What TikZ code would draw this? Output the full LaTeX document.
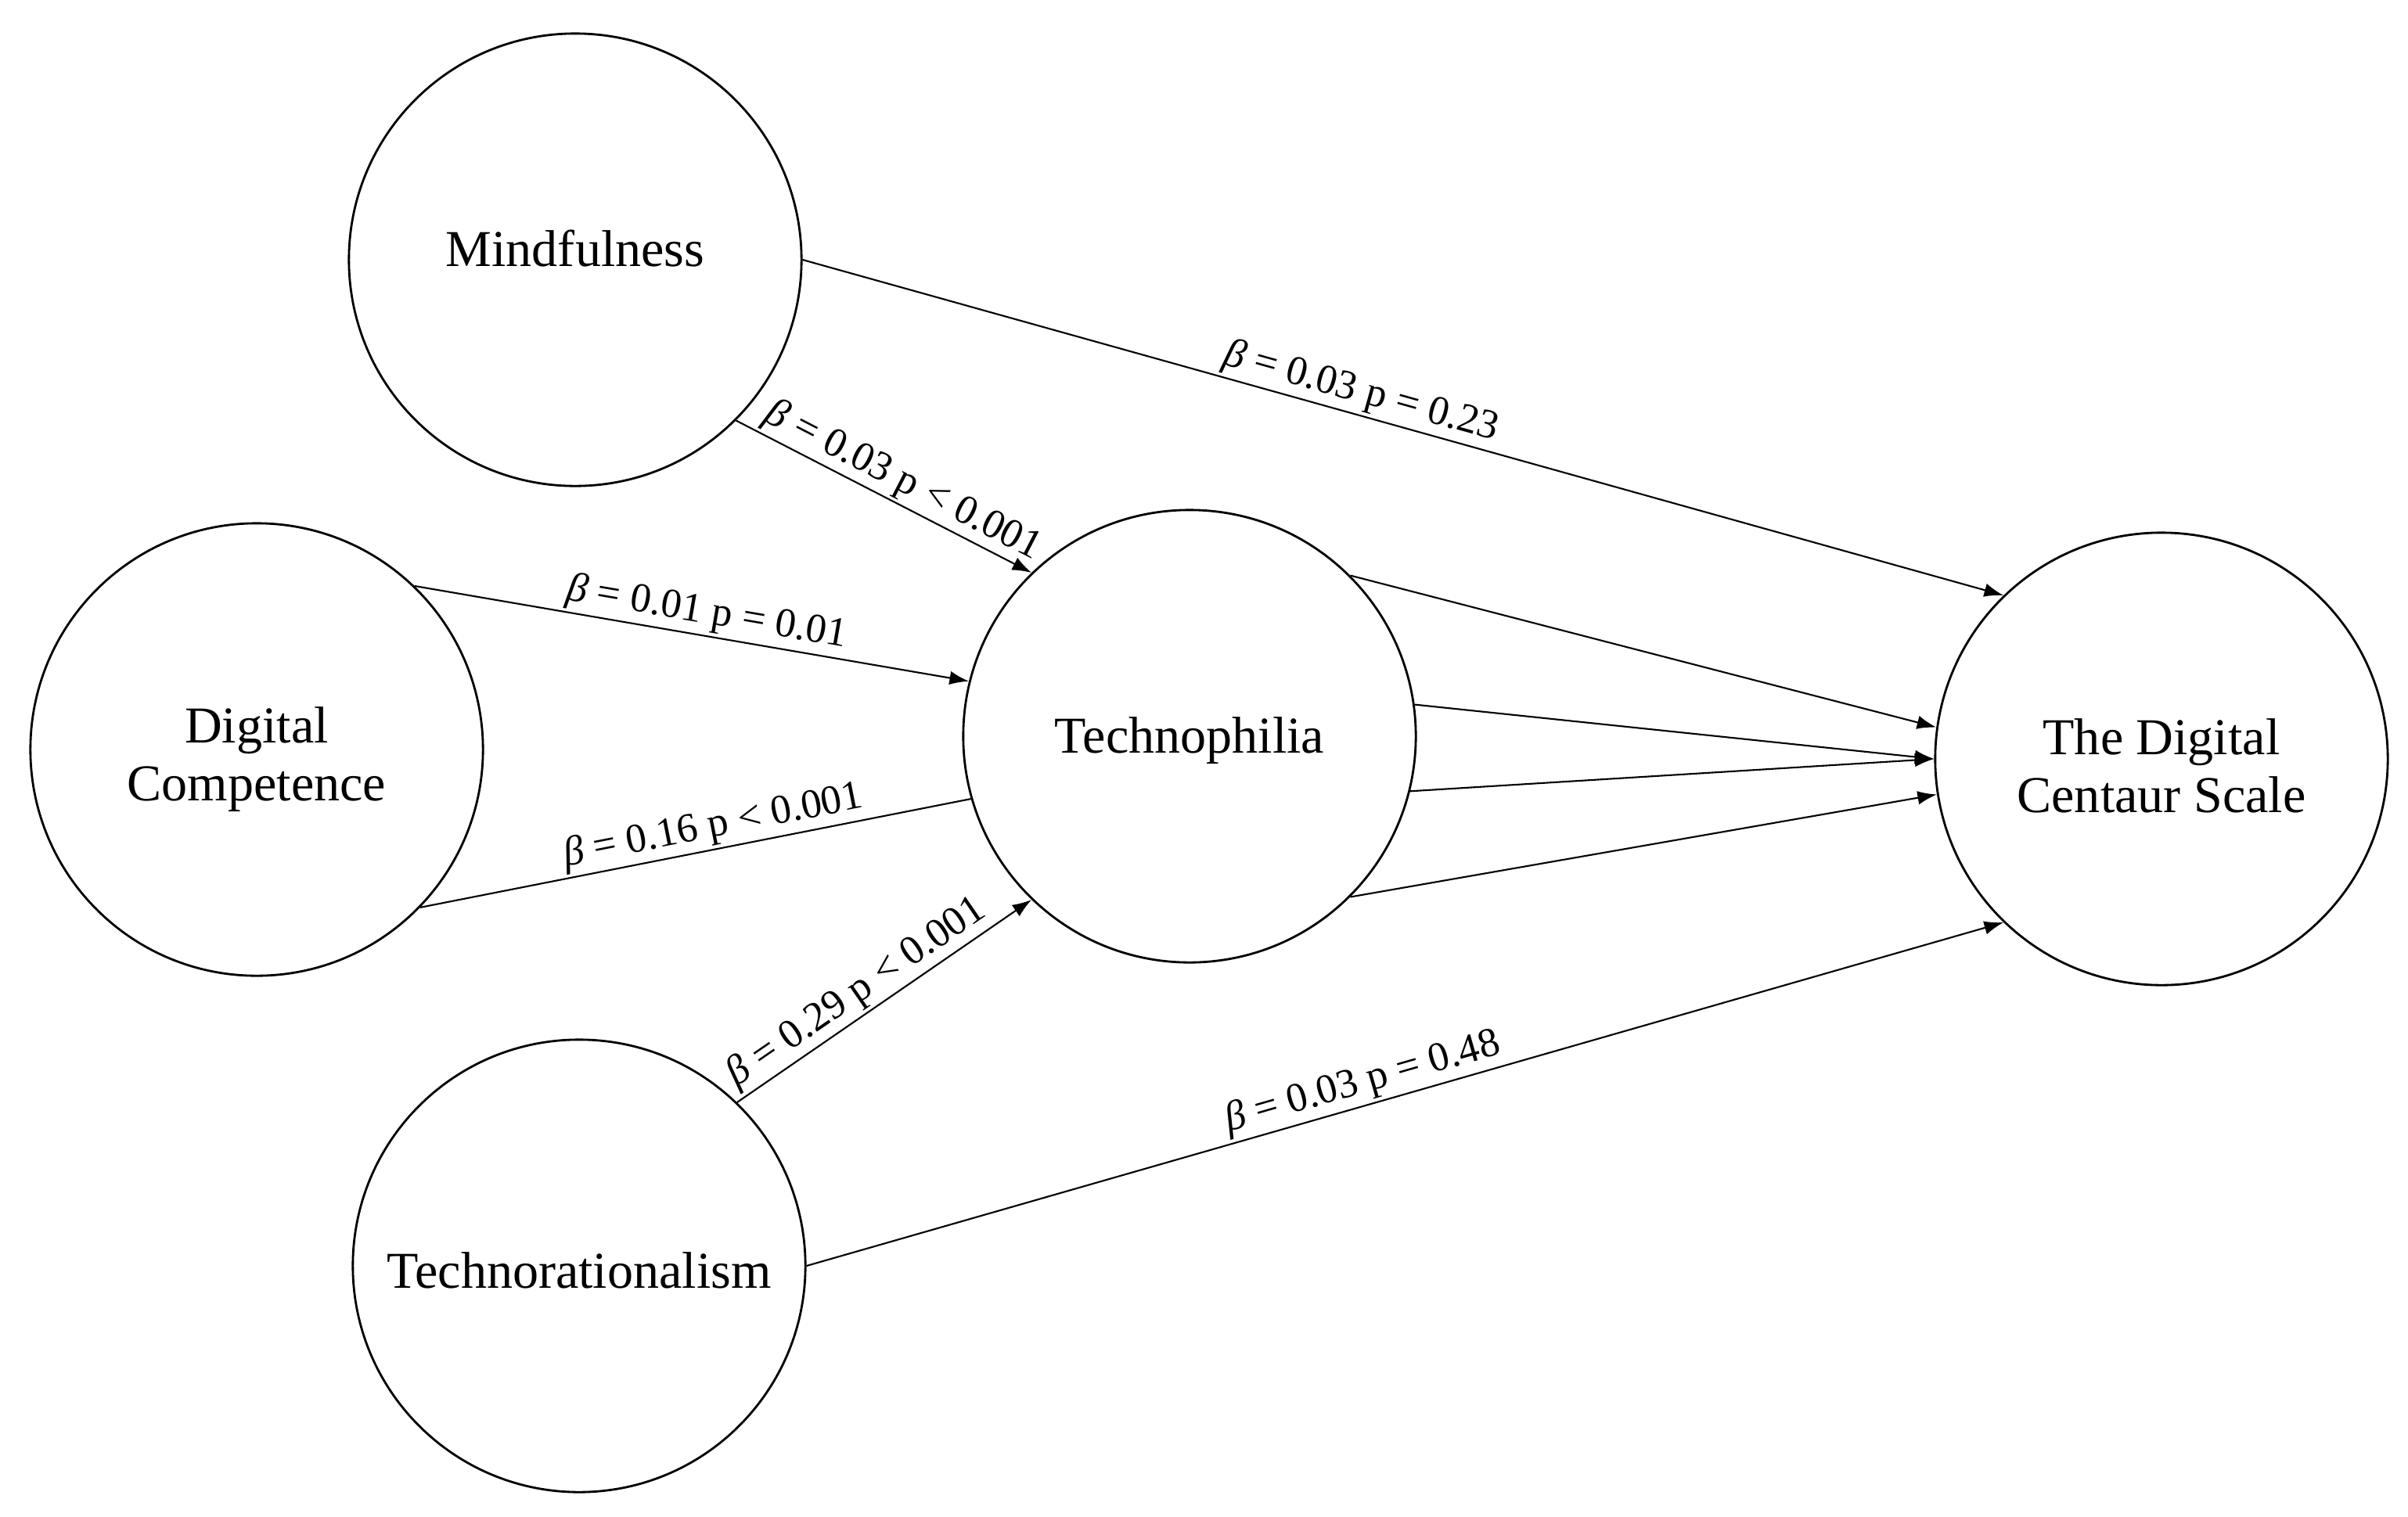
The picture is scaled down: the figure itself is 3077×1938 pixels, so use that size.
\documentclass[tikz,border=0pt]{standalone}
\usepackage{fontspec}
\setmainfont{Liberation Serif}
\usetikzlibrary{arrows.meta}
\newcommand{\sh}[2]{\raisebox{#1}[0pt][0pt]{#2}}
\newcommand{\twol}[2]{\begin{tabular}[b]{@{}c@{}}#1\\#2\end{tabular}}
\begin{document}
\begin{tikzpicture}[x=0.01cm,y=-0.01cm,
  var/.style={circle,draw,line width=0.8pt,minimum size=5.78cm,inner sep=0pt,align=center,font=\fontsize{18.8}{21}\selectfont},
  arr/.style={-{Latex[length=7pt,width=5pt]},line width=0.6pt},
  plain/.style={line width=0.6pt},
  lbl/.style={sloped,above,font=\fontsize{15}{18}\selectfont,inner sep=1pt}]
\useasboundingbox (0,0) rectangle (3077,1938);
\node[var] (M) at (735,332) {\sh{-2.3pt}{Mindfulness}};
\node[var] (D) at (328,958) {\sh{-18.5pt}{\twol{Digital}{Competence}}};
\node[var] (T) at (1520,941) {\sh{-6.2pt}{Technophilia}};
\node[var] (C) at (2762,970) {\sh{-19.4pt}{\twol{The Digital}{Centaur Scale}}};
\node[var] (R) at (740,1618) {\sh{-8pt}{Technorationalism}};
\draw[arr] (M.0) -- node[lbl,pos=0.46] {{\itshape β} = 0.03 p = 0.23} (C.134);
\draw[arr] (M.-45) -- node[lbl,pos=0.53] {{\itshape β} = 0.03 p < 0.001} (T.134);
\draw[arr] (D.46) -- node[lbl,pos=0.52] {{\itshape β} = 0.01 p = 0.01} (T.166);
\draw[plain] (D.-44) -- node[lbl,pos=0.54] {{\itshape β} = 0.16 p < 0.001} (T.196);
\draw[arr] (R.46) -- node[lbl,pos=0.45] {{\itshape β} = 0.29 p < 0.001} (T.226);
\draw[arr] (R.0) -- node[lbl,pos=0.47] {{\itshape β} = 0.03 p = 0.48} (C.226);
\draw[arr] (T.45) -- (C.172);
\draw[arr] (T.8) -- (C.180);
\draw[arr] (T.-14) -- (C.180);
\draw[arr] (T.-45) -- (C.189);
\end{tikzpicture}
\end{document}
